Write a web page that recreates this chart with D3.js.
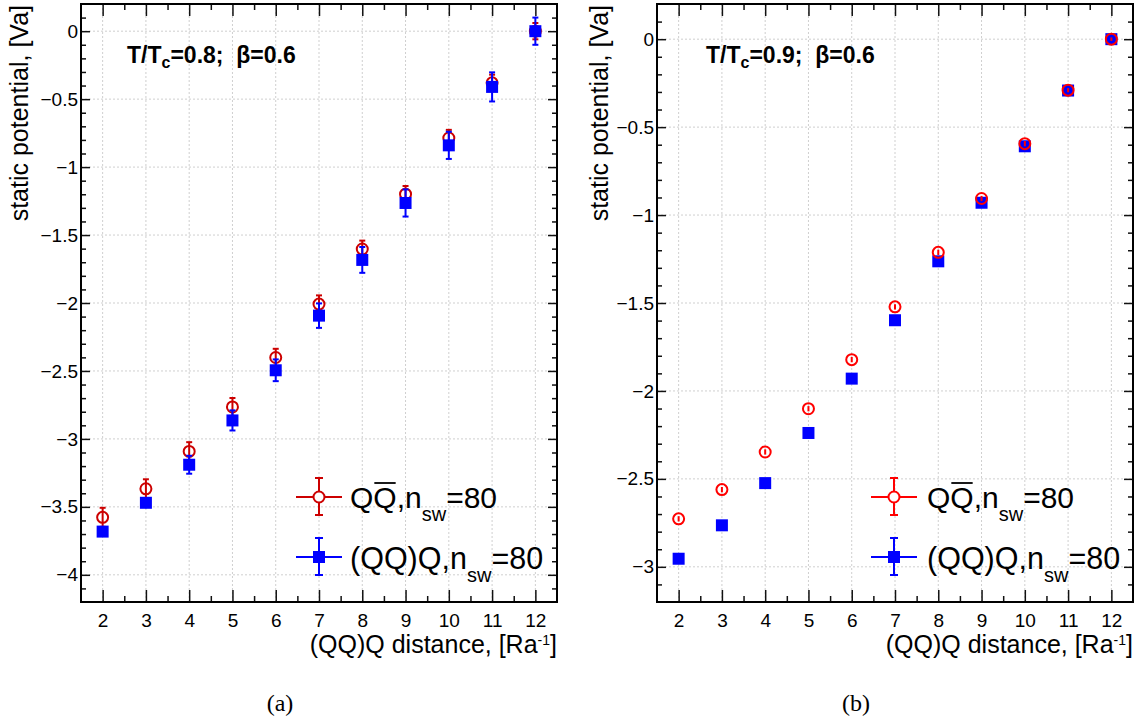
<!DOCTYPE html>
<html>
<head>
<meta charset="utf-8">
<script src="https://cdn.jsdelivr.net/npm/d3@7"></script>
<style>
  html, body { margin: 0; padding: 0; background: #fff; }
  svg { display: block; }
  text { fill: #000; }
</style>
</head>
<body>
<svg id="chart" width="1138" height="721"></svg>
<script>
// ---------------- data ----------------
const distances = [2, 3, 4, 5, 6, 7, 8, 9, 10, 11, 12];
const xTickLabels = ["2", "3", "4", "5", "6", "7", "8", "9", "10", "11", "12"];

// panel (a): T/Tc = 0.8
const aQQbar    = [-3.577, -3.367, -3.092, -2.765, -2.401, -2.008, -1.603, -1.199, -0.786, -0.380, 0.000];
const aQQbarErr = [0.070, 0.070, 0.068, 0.066, 0.064, 0.064, 0.062, 0.060, 0.060, 0.060, 0.060];
const aQQQ      = [-3.682, -3.470, -3.190, -2.864, -2.495, -2.093, -1.683, -1.264, -0.840, -0.410, 0.000];
const aQQQErr   = [0.030, 0.040, 0.066, 0.074, 0.080, 0.090, 0.095, 0.100, 0.100, 0.107, 0.100];
const aYTicks   = [0, -0.5, -1, -1.5, -2, -2.5, -3, -3.5, -4];

// panel (b): T/Tc = 0.9
const bQQbar    = [-2.727, -2.561, -2.347, -2.101, -1.822, -1.522, -1.212, -0.906, -0.594, -0.290, 0.000];
const bQQbarErr = [0.015, 0.015, 0.015, 0.015, 0.015, 0.015, 0.015, 0.015, 0.015, 0.012, 0.010];
const bQQQ      = [-2.954, -2.764, -2.524, -2.239, -1.930, -1.598, -1.263, -0.930, -0.609, -0.292, 0.000];
const bQQQErr   = [0.010, 0.010, 0.010, 0.010, 0.010, 0.010, 0.010, 0.010, 0.010, 0.010, 0.010];
const bYTicks   = [0, -0.5, -1, -1.5, -2, -2.5, -3];

// ---------------- layout ----------------
const svg = d3.select("#chart");
const FONT = '"Liberation Sans", Arial, Helvetica, sans-serif';
const SERIF = '"Liberation Serif", "DejaVu Serif", serif';

const panels = [
  {
    x0: 81, x1: 557, y0: 4, y1: 602, yDomain: [-4.2, 0.2], yTicks: aYTicks,
    red: aQQbar, redErr: aQQbarErr, blue: aQQQ, blueErr: aQQQErr,
    redColor: "#cc0000", blueOnTop: true,
    tLabel: "0.8", titleX: 28, annX: 127, legX: 319, legTextX: 350,
    caption: "(a)", capX: 280
  },
  {
    x0: 657, x1: 1133, y0: 4, y1: 602, yDomain: [-3.2, 0.2], yTicks: bYTicks,
    red: bQQbar, redErr: bQQbarErr, blue: bQQQ, blueErr: bQQQErr,
    redColor: "#ff0000", blueOnTop: false,
    tLabel: "0.9", titleX: 608, annX: 706, legX: 894, legTextX: 927,
    caption: "(b)", capX: 856
  }
];

const fmt = d => d === 0 ? "0" : d3.format("")(d);

function drawPanel(p) {
  const g = svg.append("g").style("font-family", FONT);
  const x = d3.scaleLinear().domain([1.5, 12.5]).range([p.x0, p.x1]);
  const y = d3.scaleLinear().domain(p.yDomain).range([p.y1, p.y0]);

  // grid
  const grid = g.append("g").attr("stroke", "#cfcfcf").attr("stroke-width", 1)
    .attr("stroke-dasharray", "2,2");
  grid.selectAll("line.gx").data(distances).join("line")
    .attr("x1", d => x(d)).attr("x2", d => x(d))
    .attr("y1", p.y0).attr("y2", p.y1);
  grid.selectAll("line.gy").data(p.yTicks).join("line")
    .attr("x1", p.x0).attr("x2", p.x1)
    .attr("y1", d => y(d)).attr("y2", d => y(d));

  // minor tick values
  const xMinor = distances.slice(0, -1).map(d => d + 0.5);
  const yMinor = d3.range(Math.round(p.yDomain[0] * 10) + 1, Math.round(p.yDomain[1] * 10))
    .map(v => v / 10).filter(v => Math.abs(v * 2 - Math.round(v * 2)) > 1e-6);

  function styleAxis(sel) {
    sel.select(".domain").remove();
    sel.selectAll(".tick line").attr("stroke", "#111").attr("stroke-width", 1.5);
    sel.selectAll(".tick text").style("font-family", FONT).attr("font-size", 19).attr("fill", "#000");
  }

  // bottom
  g.append("g").attr("transform", `translate(0,${p.y1})`)
    .call(d3.axisBottom(x).tickValues(distances).tickFormat((d, i) => xTickLabels[i])
      .tickSizeInner(-12).tickSizeOuter(0).tickPadding(11.5)).call(styleAxis);
  g.append("g").attr("transform", `translate(0,${p.y1})`)
    .call(d3.axisBottom(x).tickValues(xMinor).tickFormat("").tickSizeInner(-6).tickSizeOuter(0)).call(styleAxis);
  // top
  g.append("g").attr("transform", `translate(0,${p.y0})`)
    .call(d3.axisTop(x).tickValues(distances).tickFormat("").tickSizeInner(-12).tickSizeOuter(0)).call(styleAxis);
  g.append("g").attr("transform", `translate(0,${p.y0})`)
    .call(d3.axisTop(x).tickValues(xMinor).tickFormat("").tickSizeInner(-6).tickSizeOuter(0)).call(styleAxis);
  // left
  g.append("g").attr("transform", `translate(${p.x0},0)`)
    .call(d3.axisLeft(y).tickValues(p.yTicks).tickFormat(fmt).tickSizeInner(-9).tickSizeOuter(0).tickPadding(3))
    .call(styleAxis);
  g.append("g").attr("transform", `translate(${p.x0},0)`)
    .call(d3.axisLeft(y).tickValues(yMinor).tickFormat("").tickSizeInner(-5).tickSizeOuter(0)).call(styleAxis);
  // right
  g.append("g").attr("transform", `translate(${p.x1},0)`)
    .call(d3.axisRight(y).tickValues(p.yTicks).tickFormat("").tickSizeInner(-9).tickSizeOuter(0)).call(styleAxis);
  g.append("g").attr("transform", `translate(${p.x1},0)`)
    .call(d3.axisRight(y).tickValues(yMinor).tickFormat("").tickSizeInner(-5).tickSizeOuter(0)).call(styleAxis);

  // frame
  g.append("rect").attr("x", p.x0).attr("y", p.y0)
    .attr("width", p.x1 - p.x0).attr("height", p.y1 - p.y0)
    .attr("fill", "none").attr("stroke", "#000").attr("stroke-width", 2);

  // axis titles
  g.append("text").attr("transform", `translate(${p.titleX},${p.y0 + 1}) rotate(-90)`)
    .attr("text-anchor", "end").attr("font-size", 25).text("static potential, [Va]");
  const xt = g.append("text").attr("x", p.x1).attr("y", 653).attr("text-anchor", "end").attr("font-size", 25);
  xt.append("tspan").text("(QQ)Q distance, [Ra");
  xt.append("tspan").attr("font-size", 14).attr("dy", -8).text("-1");
  xt.append("tspan").attr("dy", 8).text("]");

  // annotation
  const an = g.append("text").attr("x", p.annX).attr("y", 63).attr("font-size", 23).attr("font-weight", "bold");
  an.append("tspan").text("T/T");
  an.append("tspan").attr("font-size", 16).attr("dy", 5).text("c");
  an.append("tspan").attr("dy", -5).text("=" + p.tLabel + ";\u00a0\u00a0\u03b2=0.6");

  // data
  const pts = (vals, errs) => distances.map((d, i) => ({ d, v: vals[i], e: errs[i] }));
  const redPts = pts(p.red, p.redErr);
  const bluePts = pts(p.blue, p.blueErr);

  function drawErr(layer, data, color, half) {
    layer.append("g").selectAll("line").data(data).join("line")
      .attr("x1", d => x(d.d)).attr("x2", d => x(d.d))
      .attr("y1", d => y(d.v + d.e)).attr("y2", d => y(d.v - d.e))
      .attr("stroke", color).attr("stroke-width", 2);
    layer.append("g").selectAll("line").data(data).join("line")
      .attr("x1", d => x(d.d) - 3).attr("x2", d => x(d.d) + 3)
      .attr("y1", d => y(d.v + d.e)).attr("y2", d => y(d.v + d.e))
      .attr("stroke", color).attr("stroke-width", 2)
      .attr("display", d => (y(d.v) - y(d.v + d.e)) > half ? null : "none");
    layer.append("g").selectAll("line").data(data).join("line")
      .attr("x1", d => x(d.d) - 3).attr("x2", d => x(d.d) + 3)
      .attr("y1", d => y(d.v - d.e)).attr("y2", d => y(d.v - d.e))
      .attr("stroke", color).attr("stroke-width", 2)
      .attr("display", d => (y(d.v - d.e) - y(d.v)) > half ? null : "none");
  }

  function drawRed() {
    const l = g.append("g");
    drawErr(l, redPts, p.redColor, 5.5);
    l.append("g").selectAll("circle").data(redPts).join("circle")
      .attr("cx", d => x(d.d)).attr("cy", d => y(d.v)).attr("r", 5.5)
      .attr("fill", "none").attr("stroke", p.redColor).attr("stroke-width", 2);
  }
  function drawBlue() {
    const l = g.append("g");
    drawErr(l, bluePts, "#0000ff", 6);
    l.append("g").selectAll("rect").data(bluePts).join("rect")
      .attr("x", d => x(d.d) - 6).attr("y", d => y(d.v) - 6)
      .attr("width", 12).attr("height", 12).attr("fill", "#0000ff");
  }
  if (p.blueOnTop) { drawRed(); drawBlue(); } else { drawBlue(); drawRed(); }

  // legend
  const leg = g.append("g");
  function legMarker(cy, color, shape) {
    leg.append("line").attr("x1", p.legX - 23).attr("x2", p.legX + 23).attr("y1", cy).attr("y2", cy)
      .attr("stroke", color).attr("stroke-width", 2);
    leg.append("line").attr("x1", p.legX).attr("x2", p.legX).attr("y1", cy - 19).attr("y2", cy + 18)
      .attr("stroke", color).attr("stroke-width", 2);
    [cy - 19, cy + 18].forEach(yy => leg.append("line")
      .attr("x1", p.legX - 4).attr("x2", p.legX + 4).attr("y1", yy).attr("y2", yy)
      .attr("stroke", color).attr("stroke-width", 2));
    if (shape === "circle") {
      leg.append("circle").attr("cx", p.legX).attr("cy", cy).attr("r", 5.5)
        .attr("fill", "#fff").attr("stroke", color).attr("stroke-width", 2);
    } else {
      leg.append("rect").attr("x", p.legX - 6).attr("y", cy - 6).attr("width", 12).attr("height", 12)
        .attr("fill", color);
    }
  }
  legMarker(497, p.redColor, "circle");
  legMarker(557, "#0000ff", "square");

  const t1 = leg.append("text").attr("x", p.legTextX).attr("y", 508).attr("font-size", 30);
  t1.append("tspan").text("QQ,n");
  t1.append("tspan").attr("font-size", 20).attr("dy", 13).text("sw");
  t1.append("tspan").attr("dy", -13).text("=80");
  // overline on second Q
  const ext = t1.node().getExtentOfChar(1);
  leg.append("line").attr("x1", ext.x + 1).attr("x2", ext.x + ext.width - 1)
    .attr("y1", 483).attr("y2", 483).attr("stroke", "#000").attr("stroke-width", 1.8);

  const t2 = leg.append("text").attr("x", p.legTextX).attr("y", 569).attr("font-size", 30.5);
  t2.append("tspan").text("(QQ)Q,n");
  t2.append("tspan").attr("font-size", 20).attr("dy", 13).text("sw");
  t2.append("tspan").attr("dy", -13).text("=80");

  // caption
  svg.append("text").attr("x", p.capX).attr("y", 711).attr("text-anchor", "middle")
    .style("font-family", SERIF).attr("font-size", 24)
    .text(p.caption);
}

panels.forEach(drawPanel);
</script>
</body>
</html>
